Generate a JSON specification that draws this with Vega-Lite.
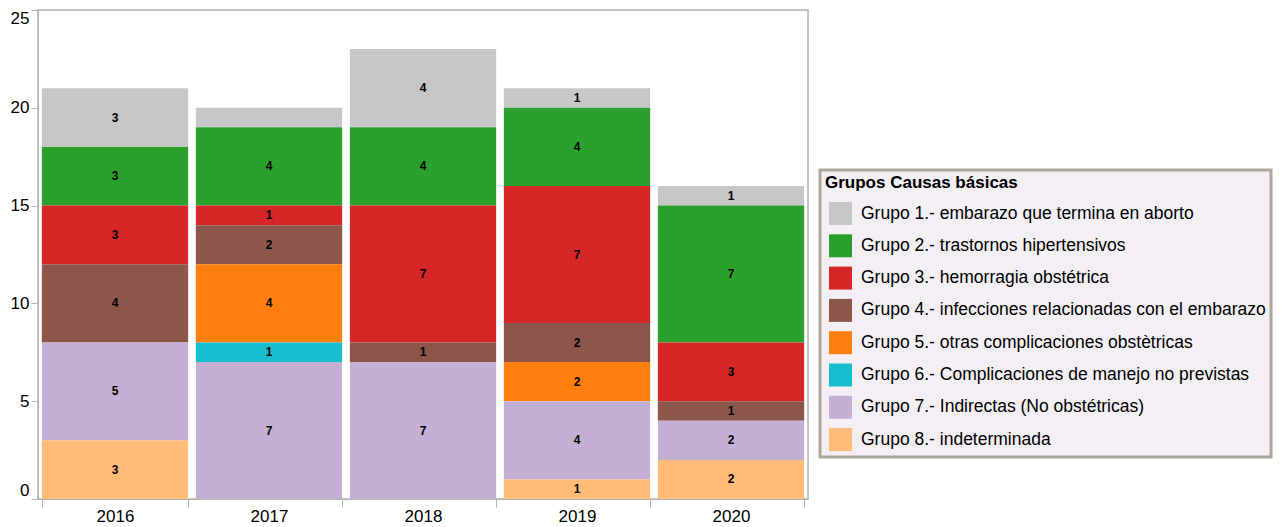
{
  "$schema": "https://vega.github.io/schema/vega-lite/v6.json",
  "width": 770,
  "height": 489,
  "autosize": "none",
  "padding": {"left": 38, "top": 10, "right": 474, "bottom": 28},
  "background": "white",
  "config": {
    "font": "Liberation Sans",
    "view": {"stroke": "#c4c4c4", "strokeWidth": 2}
  },
  "data": {
    "values": [
      {"year": "2016", "group": "Grupo 1.- embarazo que termina en aborto", "value": 3},
      {"year": "2016", "group": "Grupo 2.- trastornos hipertensivos", "value": 3},
      {"year": "2016", "group": "Grupo 3.- hemorragia obstétrica", "value": 3},
      {"year": "2016", "group": "Grupo 4.- infecciones relacionadas con el embarazo", "value": 4},
      {"year": "2016", "group": "Grupo 7.- Indirectas (No obstétricas)", "value": 5},
      {"year": "2016", "group": "Grupo 8.- indeterminada", "value": 3},
      {"year": "2017", "group": "Grupo 1.- embarazo que termina en aborto", "value": 1},
      {"year": "2017", "group": "Grupo 2.- trastornos hipertensivos", "value": 4},
      {"year": "2017", "group": "Grupo 3.- hemorragia obstétrica", "value": 1},
      {"year": "2017", "group": "Grupo 4.- infecciones relacionadas con el embarazo", "value": 2},
      {"year": "2017", "group": "Grupo 5.- otras complicaciones obstètricas", "value": 4},
      {"year": "2017", "group": "Grupo 6.- Complicaciones de manejo no previstas", "value": 1},
      {"year": "2017", "group": "Grupo 7.- Indirectas (No obstétricas)", "value": 7},
      {"year": "2018", "group": "Grupo 1.- embarazo que termina en aborto", "value": 4},
      {"year": "2018", "group": "Grupo 2.- trastornos hipertensivos", "value": 4},
      {"year": "2018", "group": "Grupo 3.- hemorragia obstétrica", "value": 7},
      {"year": "2018", "group": "Grupo 4.- infecciones relacionadas con el embarazo", "value": 1},
      {"year": "2018", "group": "Grupo 7.- Indirectas (No obstétricas)", "value": 7},
      {"year": "2019", "group": "Grupo 1.- embarazo que termina en aborto", "value": 1},
      {"year": "2019", "group": "Grupo 2.- trastornos hipertensivos", "value": 4},
      {"year": "2019", "group": "Grupo 3.- hemorragia obstétrica", "value": 7},
      {"year": "2019", "group": "Grupo 4.- infecciones relacionadas con el embarazo", "value": 2},
      {"year": "2019", "group": "Grupo 5.- otras complicaciones obstètricas", "value": 2},
      {"year": "2019", "group": "Grupo 7.- Indirectas (No obstétricas)", "value": 4},
      {"year": "2019", "group": "Grupo 8.- indeterminada", "value": 1},
      {"year": "2020", "group": "Grupo 1.- embarazo que termina en aborto", "value": 1},
      {"year": "2020", "group": "Grupo 2.- trastornos hipertensivos", "value": 7},
      {"year": "2020", "group": "Grupo 3.- hemorragia obstétrica", "value": 3},
      {"year": "2020", "group": "Grupo 4.- infecciones relacionadas con el embarazo", "value": 1},
      {"year": "2020", "group": "Grupo 7.- Indirectas (No obstétricas)", "value": 2},
      {"year": "2020", "group": "Grupo 8.- indeterminada", "value": 2}
    ]
  },
  "transform": [
    {"stack": "value", "groupby": ["year"], "sort": [{"field": "group", "order": "descending"}], "as": ["y0", "y1"]},
    {"calculate": "(datum.y0 + datum.y1) / 2", "as": "mid"}
  ],
  "encoding": {
    "x": {
      "field": "year",
      "type": "ordinal",
      "scale": {"paddingInner": 0.05, "paddingOuter": 0.025},
      "axis": {
        "title": null,
        "labelAngle": 0,
        "tickBand": "extent",
        "tickSize": 8,
        "tickColor": "#b4b4b4",
        "domainColor": "#b4b4b4",
        "labelFontSize": 17,
        "labelColor": "#000000",
        "labelPadding": 1
      }
    }
  },
  "layer": [
    {
      "mark": {"type": "bar"},
      "encoding": {
        "y": {
          "field": "y1",
          "type": "quantitative",
          "scale": {"domain": [0, 25], "nice": false},
          "axis": {
            "title": null,
            "grid": false,
            "values": [0, 5, 10, 15, 20, 25],
            "tickSize": 7,
            "tickColor": "#b4b4b4",
            "domainColor": "#b4b4b4",
            "labelFontSize": 17,
            "labelColor": "#000000",
            "labelPadding": 2,
            "labelFlush": true
          }
        },
        "y2": {"field": "y0"},
        "color": {
          "field": "group",
          "type": "nominal",
          "scale": {
            "domain": [
              "Grupo 1.- embarazo que termina en aborto",
              "Grupo 2.- trastornos hipertensivos",
              "Grupo 3.- hemorragia obstétrica",
              "Grupo 4.- infecciones relacionadas con el embarazo",
              "Grupo 5.- otras complicaciones obstètricas",
              "Grupo 6.- Complicaciones de manejo no previstas",
              "Grupo 7.- Indirectas (No obstétricas)",
              "Grupo 8.- indeterminada"
            ],
            "range": ["#c7c7c7", "#2ca02c", "#d62728", "#8c564b", "#ff7f0e", "#17becf", "#c5b0d5", "#ffbb78"]
          },
          "legend": {
            "title": "Grupos Causas básicas",
            "orient": "none",
            "legendX": 782,
            "legendY": 160,
            "fillColor": "#f3eff4",
            "strokeColor": "#aca899",
            "padding": 5,
            "titleFontSize": 17,
            "titleFontWeight": "bold",
            "titleColor": "#000000",
            "titlePadding": 10,
            "titleLimit": 600,
            "labelFontSize": 17.5,
            "labelColor": "#000000",
            "labelLimit": 600,
            "labelOffset": 9,
            "symbolType": "square",
            "symbolSize": 529,
            "symbolStrokeWidth": 0,
            "symbolOpacity": 1,
            "symbolOffset": 4,
            "rowPadding": 9.3,
            "encode": {"legend": {"update": {"strokeWidth": {"value": 3}}}}
          }
        }
      }
    },
    {
      "transform": [
        {"filter": "!(datum.year == '2017' && datum.group == 'Grupo 1.- embarazo que termina en aborto')"}
      ],
      "mark": {"type": "text", "fontSize": 12, "fontWeight": "bold", "color": "#000000"},
      "encoding": {
        "y": {"field": "mid", "type": "quantitative"},
        "text": {"field": "value", "type": "quantitative"}
      }
    }
  ]
}
